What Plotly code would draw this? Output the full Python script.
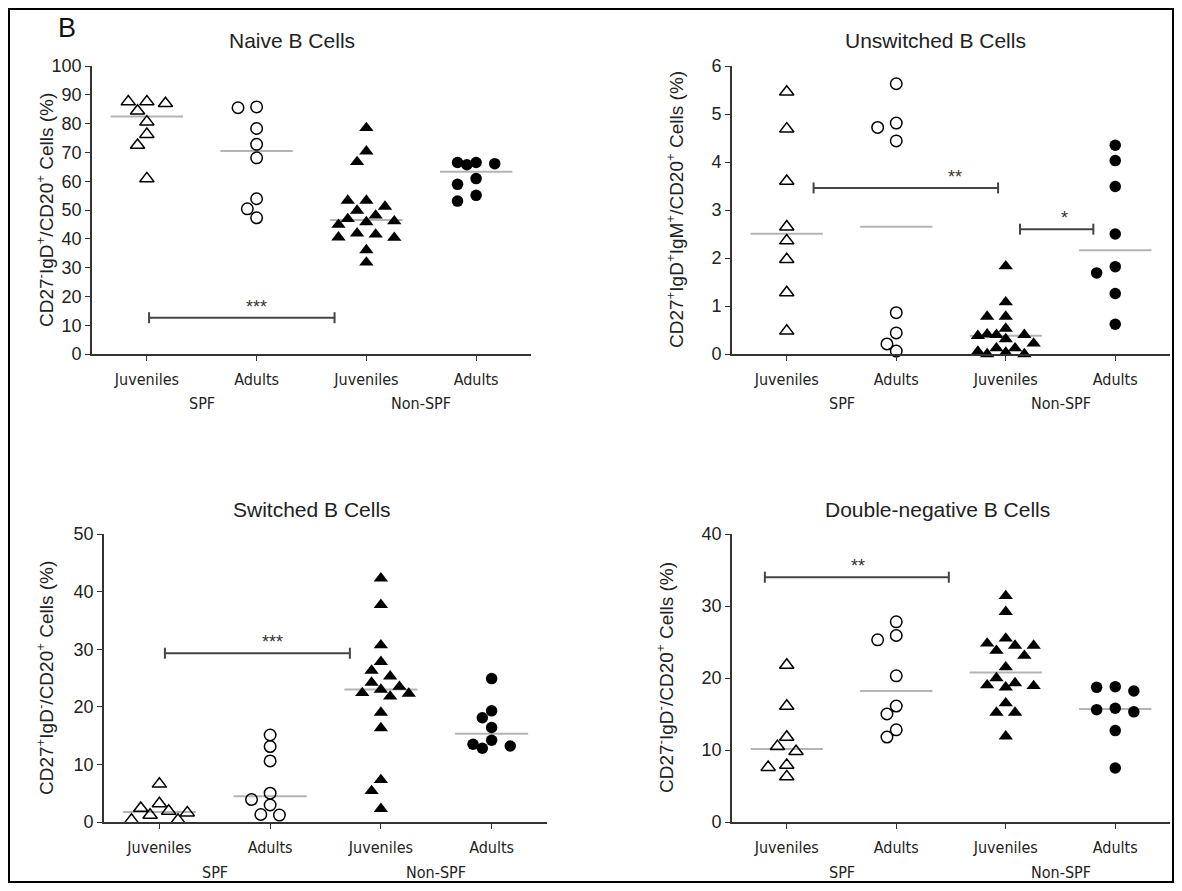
import numpy as np
import plotly.graph_objects as go

# ---------------- data ----------------
categories = ["Juveniles", "Adults", "Juveniles", "Adults"]
housing = ["SPF", "Non-SPF"]
housing_pos = [0.5, 2.5]

panel_titles = ["Naive B Cells", "Unswitched B Cells", "Switched B Cells", "Double-negative B Cells"]
y_titles = [
    "CD27<sup>-</sup>IgD<sup>+</sup>/CD20<sup>+</sup> Cells (%)",
    "CD27<sup>+</sup>IgD<sup>+</sup>IgM<sup>+</sup>/CD20<sup>+</sup> Cells (%)",
    "CD27<sup>+</sup>IgD<sup>-</sup>/CD20<sup>+</sup> Cells (%)",
    "CD27<sup>-</sup>IgD<sup>-</sup>/CD20<sup>+</sup> Cells (%)",
]
y_max = [100, 6, 50, 40]
y_dtick = [10, 1, 10, 10]

# Naive B cells
naive_spf_juv = [87.0, 87.6, 87.6, 84.4, 80.6, 76.3, 72.5, 60.9]
naive_spf_adu = [85.5, 85.8, 78.3, 72.8, 68.1, 53.9, 50.4, 47.3]
naive_nspf_juv = [78.5, 70.4, 66.7, 53.3, 53.3, 51.2, 49.8, 46.9, 48.1, 45.8, 46.1, 44.9,
                  41.9, 40.4, 40.5, 41.5, 36.1, 31.8]
naive_nspf_adu = [65.7, 66.5, 66.5, 66.1, 60.9, 58.9, 55.1, 53.1]

# Unswitched B cells
unsw_spf_juv = [5.46, 4.69, 3.60, 2.65, 2.36, 1.97, 1.28, 0.48]
unsw_spf_adu = [5.63, 4.81, 4.72, 4.44, 0.86, 0.44, 0.21, 0.06]
unsw_nspf_juv = [1.83, 1.08, 0.78, 0.78, 0.53, 0.40, 0.38, 0.40, 0.41, 0.22, 0.31,
                 0.03, 0.12, 0.0, 0.12, 0.0, 0.05]
unsw_nspf_adu = [4.35, 4.03, 3.49, 2.50, 1.82, 1.69, 1.26, 0.62]

# Switched B cells
sw_spf_juv = [6.6, 3.2, 1.2, 1.9, 0.35, 1.6, 0.35, 2.4]
sw_spf_adu = [15.1, 13.1, 10.6, 5.0, 2.95, 3.9, 1.2, 1.3]
sw_nspf_juv = [42.3, 37.7, 30.7, 27.8, 26.3, 25.3, 24.2, 23.5, 23.0, 22.3, 22.4, 21.8,
               19.0, 16.3, 7.3, 5.4, 2.3]
sw_nspf_adu = [24.9, 18.1, 19.3, 16.4, 13.5, 12.8, 13.2, 14.2]

# Double-negative B cells
dn_spf_juv = [21.8, 16.1, 11.8, 10.5, 9.8, 7.9, 7.6, 6.3]
dn_spf_adu = [27.8, 25.9, 25.3, 20.3, 16.1, 15.0, 12.8, 11.8]
dn_nspf_juv = [31.4, 29.2, 25.5, 24.8, 24.5, 24.5, 23.8, 23.1, 21.5, 20.0, 19.0, 18.7,
               19.3, 18.9, 16.5, 15.2, 15.2, 11.9]
dn_nspf_adu = [18.7, 18.2, 18.8, 15.8, 15.3, 15.6, 12.7, 7.5]

panel_data = [
    [naive_spf_juv, naive_spf_adu, naive_nspf_juv, naive_nspf_adu],
    [unsw_spf_juv, unsw_spf_adu, unsw_nspf_juv, unsw_nspf_adu],
    [sw_spf_juv, sw_spf_adu, sw_nspf_juv, sw_nspf_adu],
    [dn_spf_juv, dn_spf_adu, dn_nspf_juv, dn_nspf_adu],
]

# significance brackets: (from, to, level, label, label position)
sig_naive = [(0.02, 1.71, 12.6, "***", 1.0)]
sig_unsw = [(0.245, 1.93, 3.46, "**", 1.54), (2.13, 2.80, 2.6, "*", 2.54)]
sig_sw = [(0.05, 1.72, 29.3, "***", 1.02)]
sig_dn = [(-0.2, 1.48, 34.0, "**", 0.65)]
panel_sigs = [sig_naive, sig_unsw, sig_sw, sig_dn]

# ---------------- layout helpers ----------------
W, H = 1166, 875
OFF = 8


def px(X):
    return (X - OFF) / W


def py(Y):
    return 1 - (Y - OFF) / H


# page-pixel boxes of the four plot areas: (left, right, top, bottom)
boxes = [(92, 531, 66, 354), (732, 1170, 66, 354), (104, 547, 534, 822), (732, 1170, 534, 822)]
title_pos = [(292, 40), (935, 40), (312, 509), (937, 509)]
ytitle_x = [45, 675, 45, 665]
housing_y = [403, 403, 872, 872]

markers = [
    dict(symbol="triangle-up-open", color="black", size=12.5, line=dict(width=1.5, color="black")),
    dict(symbol="circle-open", color="black", size=11.5, line=dict(width=1.5, color="black")),
    dict(symbol="triangle-up", color="black", size=12.5, line=dict(width=0)),
    dict(symbol="circle", color="black", size=11.5, line=dict(width=0)),
]

TICKFONT = "DejaVu Sans Condensed, Liberation Sans, Arial, sans-serif"
FONT = "Liberation Sans, Arial, Helvetica, sans-serif"


def swarm(values, px_per_unit, step=9.3, dmin=11.5, maxk=3):
    vals = np.asarray(values, dtype=float)
    order = np.argsort(-vals, kind="stable")
    placed = []
    offs = np.zeros(len(vals))
    cands = [0]
    for j in range(1, maxk + 1):
        cands += [-j, j]
    for i in order:
        y = vals[i] * px_per_unit
        best, bestd = 0.0, -1.0
        for c in cands:
            x = c * step
            d = min([np.hypot(x - a, y - b) for a, b in placed] or [1e9])
            if d >= dmin:
                best = x
                break
            if d > bestd:
                best, bestd = x, d
        placed.append((best, y))
        offs[i] = best
    return offs


fig = go.Figure()
shapes = []
annotations = []

for p in range(4):
    L, R, T, B = boxes[p]
    xa = "x" if p == 0 else f"x{p+1}"
    ya = "y" if p == 0 else f"y{p+1}"
    px_cat = (R - L) / 4.0
    px_y = (B - T) / y_max[p]
    for g in range(4):
        vals = panel_data[p][g]
        offs = swarm(vals, px_y)
        xs = g + offs / px_cat
        fig.add_trace(go.Scatter(
            x=xs, y=vals, mode="markers", marker=markers[g], cliponaxis=False,
            xaxis=xa, yaxis=ya, showlegend=False, hoverinfo="skip"))
        med = float(np.median(vals))
        shapes.append(dict(type="line", xref=xa, yref=ya, x0=g - 0.33, x1=g + 0.33,
                           y0=med, y1=med, line=dict(color="#b4b4b4", width=2), layer="below"))
    # significance brackets
    cap = 5.5 / px_y
    for (a, b, lev, lab, lx) in panel_sigs[p]:
        shapes.append(dict(type="line", xref=xa, yref=ya, x0=a, x1=b, y0=lev, y1=lev,
                           line=dict(color="#444", width=2)))
        for e in (a, b):
            shapes.append(dict(type="line", xref=xa, yref=ya, x0=e, x1=e, y0=lev - cap,
                               y1=lev + cap, line=dict(color="#444", width=2)))
        annotations.append(dict(xref=xa, yref=ya, x=lx, y=lev, text=lab, showarrow=False,
                                yanchor="middle", yshift=11,
                                font=dict(family=FONT, size=18, color="#333")))
    # titles
    annotations.append(dict(xref="paper", yref="paper", x=px(title_pos[p][0]), y=py(title_pos[p][1]),
                            text=panel_titles[p], showarrow=False, xanchor="center", yanchor="middle",
                            font=dict(family=FONT, size=21, color="#222")))
    annotations.append(dict(xref="paper", yref="paper", x=px(ytitle_x[p]), y=py((T + B) / 2),
                            text=y_titles[p], showarrow=False, textangle=-90,
                            xanchor="center", yanchor="middle",
                            font=dict(family=FONT, size=19, color="#222")))
    for hname, hx in zip(housing, housing_pos):
        annotations.append(dict(xref=xa, yref="paper", x=hx, y=py(housing_y[p]), text=hname,
                                showarrow=False, xanchor="center", yanchor="middle",
                                font=dict(family=TICKFONT, size=16, color="#222")))

    axis_common = dict(showline=True, linecolor="#333", linewidth=1.6, ticks="outside",
                       ticklen=5, tickwidth=1.4, tickcolor="#333", showgrid=False,
                       zeroline=False, fixedrange=True, automargin=False)
    xkey = "xaxis" if p == 0 else f"xaxis{p+1}"
    ykey = "yaxis" if p == 0 else f"yaxis{p+1}"
    fig.update_layout({
        xkey: dict(axis_common, domain=[px(L), px(R)], range=[-0.5, 3.5], tickvals=[0, 1, 2, 3],
                   ticktext=categories, anchor=ya, ticklabelstandoff=5,
                   tickfont=dict(family=TICKFONT, size=16, color="#222")),
        ykey: dict(axis_common, domain=[py(B), py(T)], range=[0, y_max[p]], dtick=y_dtick[p],
                   anchor=xa, tickfont=dict(family=FONT, size=18, color="#222")),
    })

# panel letter
annotations.append(dict(xref="paper", yref="paper", x=px(67), y=py(28), text="B", showarrow=False,
                        xanchor="center", yanchor="middle", font=dict(family=FONT, size=27, color="#111")))
# outer border
shapes.append(dict(type="rect", xref="paper", yref="paper", x0=1 / W, x1=1 - 1 / W, y0=1 / H, y1=1 - 1 / H,
                   line=dict(color="black", width=2)))

fig.update_layout(width=W, height=H, margin=dict(l=0, r=0, t=0, b=0, pad=0, autoexpand=False),
                  paper_bgcolor="white", plot_bgcolor="white", showlegend=False,
                  shapes=shapes, annotations=annotations)

fig.write_html("out.html")
